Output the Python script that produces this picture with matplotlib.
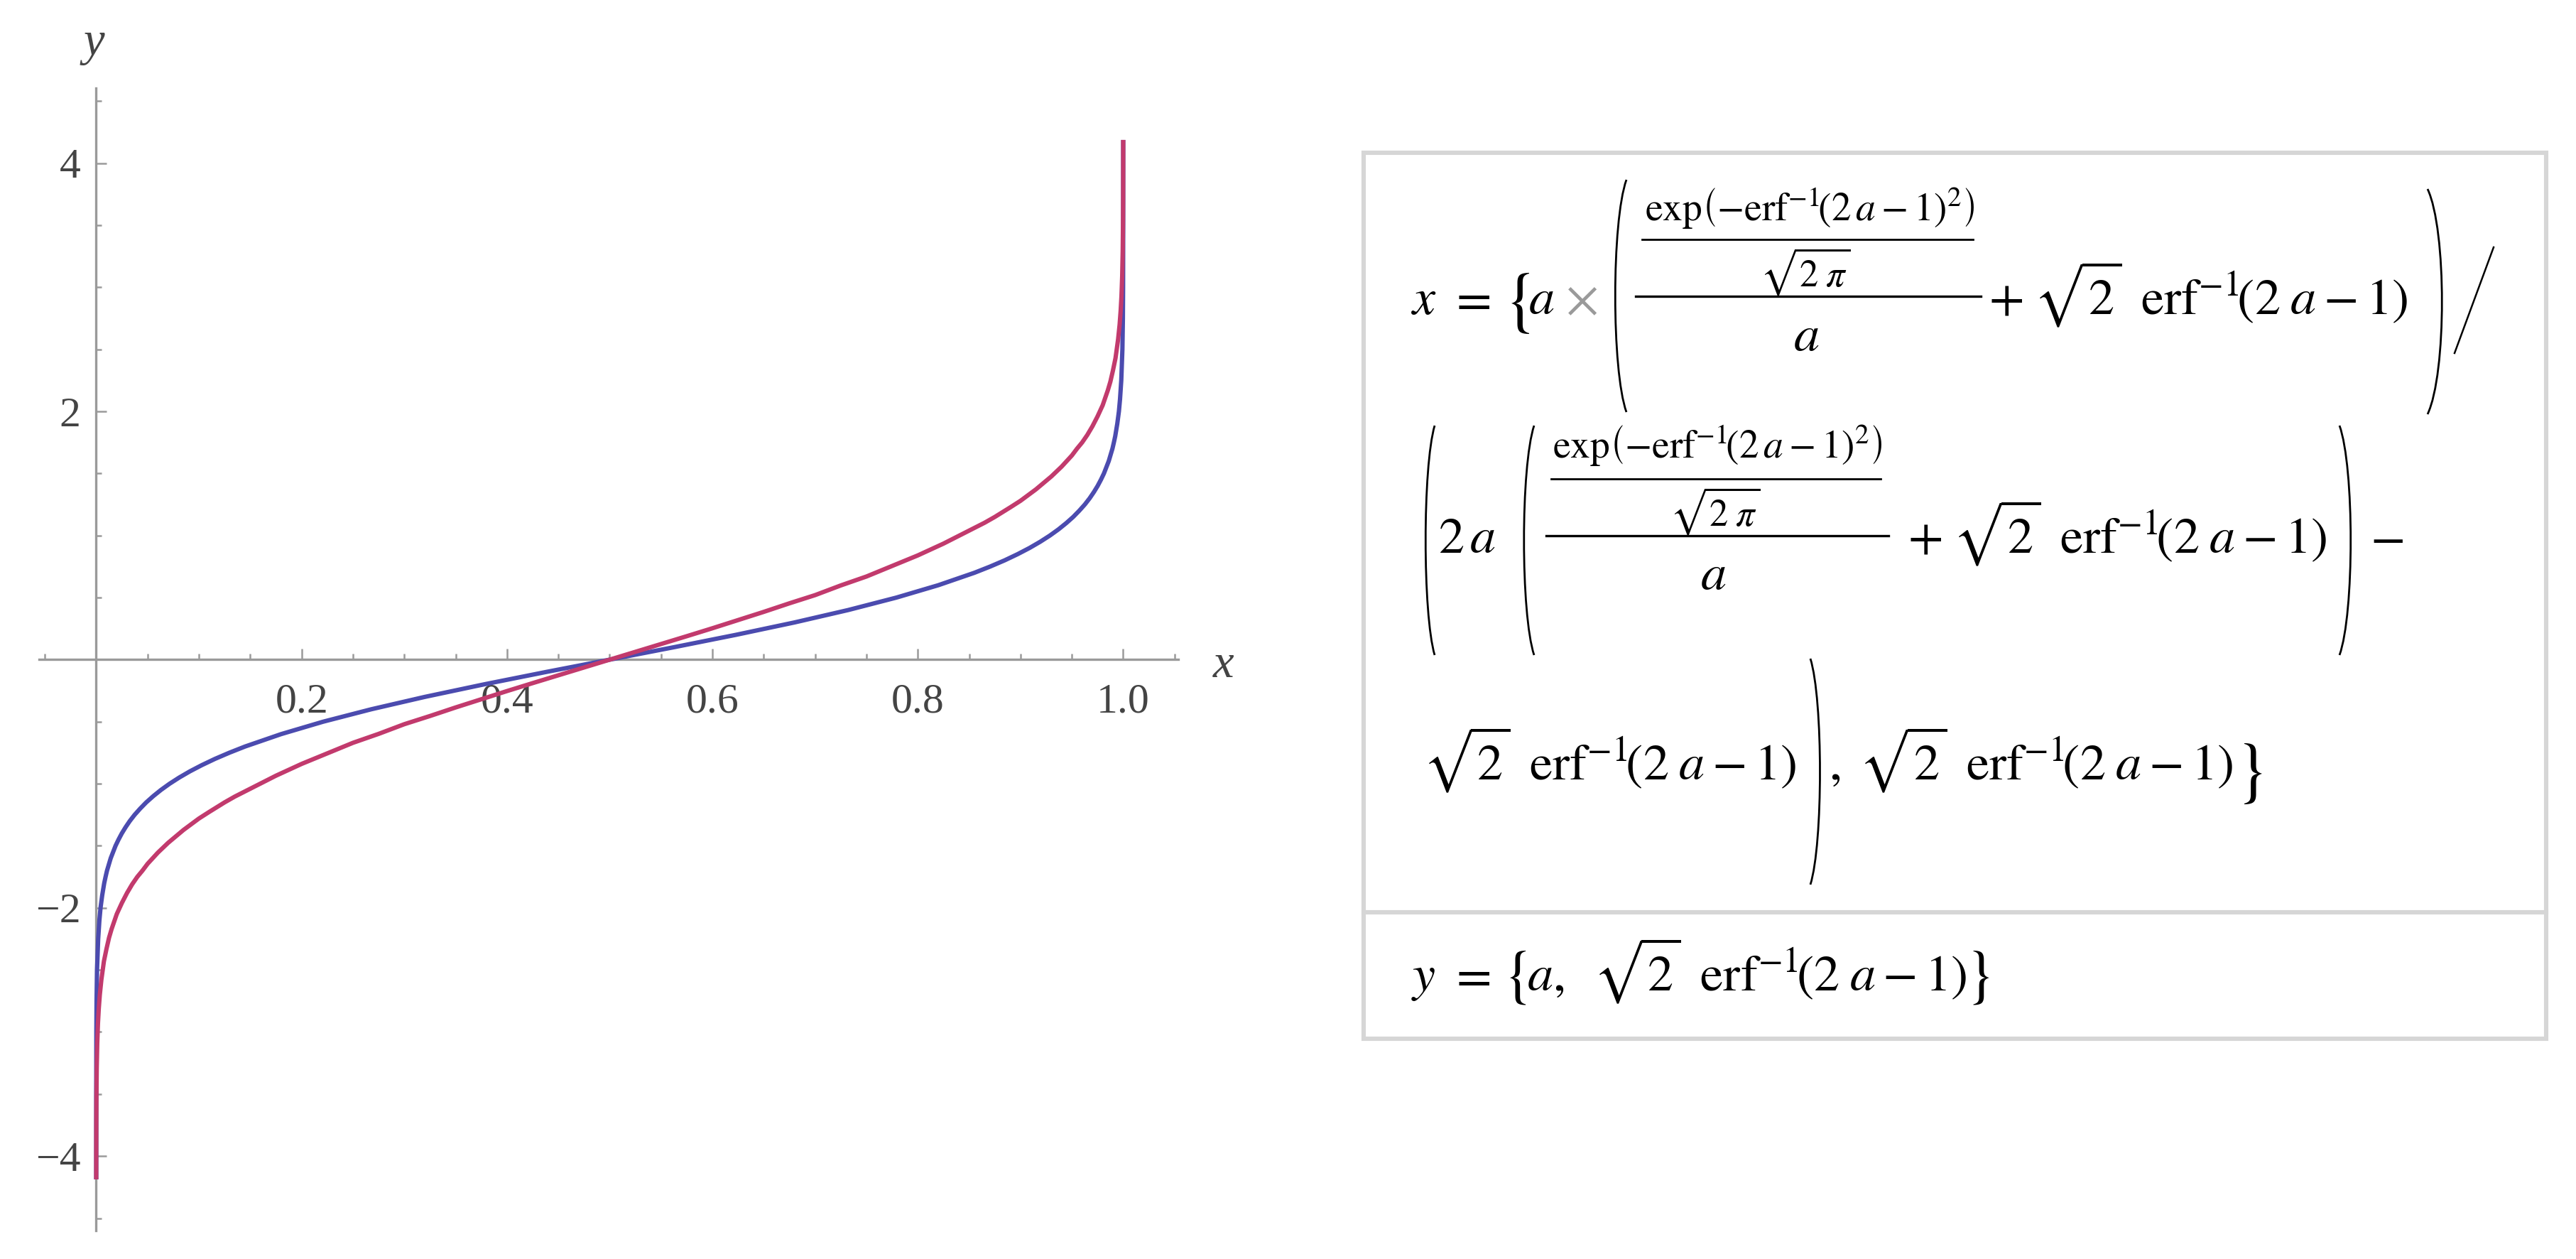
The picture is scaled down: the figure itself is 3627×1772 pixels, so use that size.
import matplotlib
matplotlib.use("Agg")
import matplotlib.pyplot as plt
from matplotlib.path import Path
from matplotlib.patches import PathPatch, Rectangle
from matplotlib.lines import Line2D
from matplotlib.ticker import FixedLocator

# ---------------- data ----------------
blue_x = [0.0, 0.00002, 0.00013, 0.00032, 0.0008, 0.0019, 0.0031, 0.0042, 0.0058, 0.0078,
          0.0091, 0.0105, 0.0141, 0.0188, 0.0217, 0.0249, 0.0286, 0.0327, 0.0374, 0.0428,
          0.0487, 0.0555, 0.0630, 0.0714, 0.0808, 0.0912, 0.1028, 0.1155, 0.1296, 0.1449,
          0.1800, 0.2209, 0.2677, 0.3200, 0.3771, 0.4376,
          0.5,
          0.5624, 0.6229, 0.6800, 0.7323, 0.7791, 0.8200, 0.8551, 0.8704, 0.8845, 0.8972,
          0.9088, 0.9192, 0.9286, 0.9370, 0.9445, 0.9513, 0.9572, 0.9626, 0.9673, 0.9714,
          0.9751, 0.9783, 0.9812, 0.9859, 0.9895, 0.9909, 0.9922, 0.9942, 0.9958, 0.9969,
          0.9981, 0.9992, 0.99968, 0.99987, 0.99998, 1.0]
blue_y = [-4.17, -3.5, -3.0, -2.75, -2.5, -2.25, -2.1, -2.0, -1.9, -1.8,
          -1.75, -1.7, -1.6, -1.5, -1.45, -1.4, -1.35, -1.3, -1.25, -1.2,
          -1.15, -1.1, -1.05, -1.0, -0.95, -0.9, -0.85, -0.8, -0.75, -0.7,
          -0.6, -0.5, -0.4, -0.3, -0.2, -0.1,
          0.0,
          0.1, 0.2, 0.3, 0.4, 0.5, 0.6, 0.7, 0.75, 0.8, 0.85,
          0.9, 0.95, 1.0, 1.05, 1.1, 1.15, 1.2, 1.25, 1.3, 1.35,
          1.4, 1.45, 1.5, 1.6, 1.7, 1.75, 1.8, 1.9, 2.0, 2.1,
          2.25, 2.5, 2.75, 3.0, 3.5, 4.17]

red_x = [0.000015, 0.00003, 0.0001, 0.0002, 0.0005, 0.001, 0.0017, 0.0025, 0.0035, 0.005,
         0.0075, 0.01, 0.0125, 0.015, 0.02, 0.025, 0.03, 0.035, 0.04, 0.045,
         0.05, 0.06, 0.07, 0.085, 0.1, 0.11, 0.125, 0.135, 0.15, 0.175,
         0.2, 0.225, 0.25, 0.275, 0.3, 0.325, 0.35, 0.375, 0.4, 0.425, 0.45, 0.475,
         0.5,
         0.525, 0.55, 0.575, 0.6, 0.625, 0.65, 0.675, 0.7, 0.725, 0.75, 0.775, 0.8,
         0.825, 0.85, 0.865, 0.875, 0.89, 0.9, 0.915, 0.93, 0.94, 0.95,
         0.955, 0.96, 0.965, 0.97, 0.975, 0.98, 0.985, 0.9875, 0.99, 0.9925,
         0.995, 0.9965, 0.9975, 0.9983, 0.999, 0.9995, 0.9998, 0.9999, 0.99997, 0.999985]
red_y = [-4.17, -4.01, -3.72, -3.54, -3.29, -3.09, -2.93, -2.81, -2.70, -2.58,
         -2.43, -2.33, -2.24, -2.17, -2.05, -1.96, -1.88, -1.81, -1.75, -1.70,
         -1.645, -1.555, -1.476, -1.372, -1.28, -1.227, -1.15, -1.103, -1.04, -0.935,
         -0.84, -0.755, -0.67, -0.598, -0.52, -0.454, -0.385, -0.319, -0.253, -0.189, -0.126, -0.063,
         0.0,
         0.063, 0.126, 0.189, 0.253, 0.319, 0.385, 0.454, 0.52, 0.598, 0.67, 0.755, 0.84,
         0.935, 1.04, 1.103, 1.15, 1.227, 1.28, 1.372, 1.476, 1.555, 1.645,
         1.70, 1.75, 1.81, 1.88, 1.96, 2.05, 2.17, 2.24, 2.33, 2.43,
         2.58, 2.70, 2.81, 2.93, 3.09, 3.29, 3.54, 3.72, 4.01, 4.17]

x_major = [0.2, 0.4, 0.6, 0.8, 1.0]
x_labels = ["0.2", "0.4", "0.6", "0.8", "1.0"]
x_minor = [-0.05, 0.05, 0.1, 0.15, 0.25, 0.3, 0.35, 0.45, 0.5, 0.55, 0.65, 0.7, 0.75,
           0.85, 0.9, 0.95, 1.05]
y_major = [-4, -2, 2, 4]
y_labels = ["\u22124", "\u22122", "2", "4"]
y_minor = [-4.5, -3.5, -3, -2.5, -1.5, -1, -0.5, 0.5, 1, 1.5, 2.5, 3, 3.5, 4.5]

BLUE = "#4B4BAF"
RED = "#C23A6D"
AX_GRAY = "#9a9a9a"
TXT_GRAY = "#444444"

# ---------------- figure ----------------
W, H, DPI = 3627, 1772, 200
plt.rcParams["mathtext.fontset"] = "stix"
fig = plt.figure(figsize=(W / DPI, H / DPI), dpi=DPI)
fig.patch.set_facecolor("white")

def fx(px):
    return px / W

def fy(py):
    return 1 - py / H

# main plot axes (pixel box 54.5..1659 x 124..1732)
ax = fig.add_axes([fx(54.5), fy(1732), fx(1659) - fx(54.5), fy(124) - fy(1732)])
ax.set_xlim(-0.056, 1.0536)
ax.set_ylim(-4.6, 4.605)
ax.set_facecolor("none")

ax.plot(blue_x, blue_y, color=BLUE, lw=2.2, solid_joinstyle="round", zorder=3)
ax.plot(red_x, red_y, color=RED, lw=2.2, solid_joinstyle="round", zorder=4)

for s in ("top", "right"):
    ax.spines[s].set_visible(False)
ax.spines["left"].set_position(("data", 0))
ax.spines["bottom"].set_position(("data", 0))
for s in ("left", "bottom"):
    ax.spines[s].set_color(AX_GRAY)
    ax.spines[s].set_linewidth(1.2)

ax.xaxis.set_major_locator(FixedLocator(x_major))
ax.xaxis.set_minor_locator(FixedLocator(x_minor))
ax.yaxis.set_major_locator(FixedLocator(y_major))
ax.yaxis.set_minor_locator(FixedLocator(y_minor))
ax.set_xticklabels(x_labels)
ax.set_yticklabels(y_labels)
ax.tick_params(which="both", direction="in", color=AX_GRAY, width=0.9)
ax.tick_params(which="major", length=5.4)
ax.tick_params(which="minor", length=2.8)
ax.tick_params(axis="x", which="major", pad=12)
ax.tick_params(axis="y", which="major", pad=8)
for lab in ax.get_xticklabels() + ax.get_yticklabels():
    lab.set_fontfamily("Liberation Serif")
    lab.set_fontsize(21.5)
    lab.set_color(TXT_GRAY)

fig.text(fx(1723), fy(937), "x", fontsize=24, family="Liberation Serif", style="italic",
         color=TXT_GRAY, ha="center", va="center")
fig.text(fx(132), fy(61), "y", fontsize=24, family="Liberation Serif", style="italic",
         color=TXT_GRAY, ha="center", va="center")

# ---------------- formula box ----------------
BOX = "#d6d6d6"
fig.add_artist(Rectangle((fx(1920), fy(1462)), fx(3585) - fx(1920), fy(215) - fy(1462),
                         transform=fig.transFigure, fill=False, edgecolor=BOX, lw=2.2))
fig.add_artist(Line2D([fx(1920), fx(3585)], [fy(1284), fy(1284)], transform=fig.transFigure,
                      color=BOX, lw=2.2))

MAIN = 26
SMALL = 19
NUMSIZE = 20

def T(px, py, s, size=MAIN, ha="left", va="baseline", color="black"):
    fig.text(fx(px), fy(py), s, fontsize=size, ha=ha, va=va, color=color)

def hbar(x0, x1, y, lw=1.0):
    fig.add_artist(Line2D([fx(x0), fx(x1)], [fy(y), fy(y)], transform=fig.transFigure,
                          color="black", lw=lw))

def paren(x0, x1, y0, y1, left=True, lw=1.0):
    h = y1 - y0
    if left:
        verts = [(x1, y0), (x0, y0 + 0.18 * h), (x0, y1 - 0.18 * h), (x1, y1)]
    else:
        verts = [(x0, y0), (x1, y0 + 0.18 * h), (x1, y1 - 0.18 * h), (x0, y1)]
    verts = [(fx(a), fy(b)) for a, b in verts]
    p = Path(verts, [Path.MOVETO, Path.CURVE4, Path.CURVE4, Path.CURVE4])
    fig.add_artist(PathPatch(p, transform=fig.transFigure, fill=False, edgecolor="black", lw=lw))

NUM = r"$\exp\!\left(-\mathrm{erf}^{-1}\!\left(2\,a-1\right)^{2}\right)$"
SQ2PI = r"$\sqrt{2\;\pi}$"
ERF = r"\sqrt{2}\;\;\mathrm{erf}^{-1}\!(2\;a-1)"
TAIL = r"$+\;" + ERF + r"$"

# Row 1
T(1987, 442, r"$x$")
T(2040, 442, r"$=$")
T(2135, 425, r"$\{$", size=36, ha="center", va="center")
T(2152, 442, r"$a$")
T(2204, 442, r"$\times$", color="#9a9a9a")
paren(2269, 2290, 253, 580, left=True)
T(2548, 311, NUM, size=NUMSIZE, ha="center")
hbar(2312, 2778, 337)
T(2542, 403, SQ2PI, size=SMALL, ha="center")
hbar(2303, 2789, 417, lw=1.2)
T(2543, 494, r"$a$", ha="center")
T(2800, 442, TAIL)
paren(3418, 3445, 266, 583, left=False)
fig.add_artist(Line2D([fx(3511), fx(3456)], [fy(348), fy(497)], transform=fig.transFigure,
                      color="black", lw=0.9))

# Row 2
paren(2003, 2020, 599, 922, left=True)
T(2025, 778, r"$2\,a$")
paren(2141, 2160, 599, 922, left=True)
T(2418, 645, NUM, size=NUMSIZE, ha="center")
hbar(2184, 2648, 674)
T(2415, 740, SQ2PI, size=SMALL, ha="center")
hbar(2177, 2659, 754, lw=1.2)
T(2412, 830, r"$a$", ha="center")
T(2686, 778, TAIL)
paren(3294, 3315, 599, 922, left=False)
T(3337, 778, r"$-$")

# Row 3
T(2003, 1097, r"$" + ERF + r"$")
paren(2549, 2567, 927, 1245, left=False)
T(2575, 1097, r"$,\;" + ERF + r"$")
T(3166, 1086, r"$\}$", size=36, ha="center", va="center")

# Row 4
T(1987, 1394, r"$y$")
T(2040, 1394, r"$=$")
T(2133, 1374, r"$\{$", size=32, ha="center", va="center")
T(2150, 1394, r"$a,\;\;" + ERF + r"$")
T(2784, 1374, r"$\}$", size=32, ha="center", va="center")

fig.savefig("out.png", dpi=DPI, facecolor="white")
